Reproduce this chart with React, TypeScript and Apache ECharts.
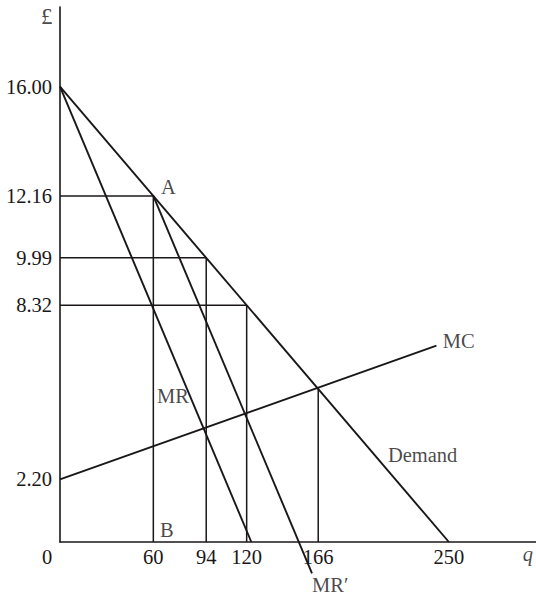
import React, { useEffect, useRef } from "react";
import * as echarts from "echarts";

const priceTicks = [2.2, 8.32, 9.99, 12.16, 16];
const quantityTicks = [0, 60, 94, 120, 166, 250];

const demand = [[0, 16], [250, 0]];
const mr = [[0, 16], [123, 0]];
const mrPrime = [[60, 12.16], [162, -1.1]];
const mc = [[0, 2.2], [242, 6.9]];

const verticalGuides = [
  [[60, 0], [60, 12.16]],
  [[94, 0], [94, 9.99]],
  [[120, 0], [120, 8.32]],
  [[166, 0], [166, 5.38]],
];
const horizontalGuides = [
  [[0, 12.16], [60, 12.16]],
  [[0, 9.99], [94, 9.99]],
  [[0, 8.32], [120, 8.32]],
];

const annotations = [
  { text: "A", q: 64.9, p: 12.47, italic: false, size: 20.5 },
  { text: "B", q: 64.3, p: 0.42, italic: false, size: 20.5 },
  { text: "MR", q: 62.3, p: 5.13, italic: false, size: 20.5 },
  { text: "MR\u2032", q: 162, p: -1.51, italic: false, size: 20.5 },
  { text: "MC", q: 246, p: 7.06, italic: false, size: 20.5 },
  { text: "Demand", q: 210.8, p: 3.06, italic: false, size: 20.5 },
  { text: "\u00a3", q: -12.2, p: 18.45, italic: false, size: 23 },
  { text: "q", q: 297.5, p: -0.42, italic: true, size: 20.5 },
];

const INK = "#1a1718";
const FONT = "'Liberation Serif', 'Times New Roman', serif";
const FS = 20.5;

export default function App() {
  const ref = useRef<HTMLDivElement>(null);
  useEffect(() => {
    if (!ref.current) return;
    const chart = echarts.init(ref.current, null, { renderer: "svg" });
    const curve = (name: string, data: number[][], w = 1.9) => ({
      name,
      type: "line",
      data,
      symbol: "none",
      clip: false,
      lineStyle: { color: INK, width: w },
      silent: true,
    });
    const series: any[] = [
      curve("Demand", demand),
      curve("MR", mr),
      curve("MR'", mrPrime),
      curve("MC", mc),
      ...verticalGuides.map((d, i) => curve("v" + i, d, 1.5)),
      ...horizontalGuides.map((d, i) => curve("h" + i, d, 1.5)),
      {
        type: "scatter",
        symbolSize: 0,
        clip: false,
        silent: true,
        data: annotations.map((a) => ({
          value: [a.q, a.p],
          label: {
            show: true,
            formatter: a.text,
            position: [0, 0],
            align: "left",
            verticalAlign: "middle",
            fontStyle: a.italic ? "italic" : "normal",
            fontFamily: FONT,
            fontSize: a.size,
            color: INK,
          },
        })),
      },
    ];
    chart.setOption({
      animation: false,
      backgroundColor: "#ffffff",
      grid: { left: 60, right: 0, top: 7, bottom: 53 },
      xAxis: {
        type: "value",
        min: 0,
        max: 306,
        axisLine: { show: true, lineStyle: { color: INK, width: 1.6 } },
        axisTick: { show: false },
        splitLine: { show: false },
        axisLabel: {
          customValues: quantityTicks,
          margin: 4,
          fontFamily: FONT,
          fontSize: FS,
          color: INK,
          formatter: (v: number) => (v === 0 ? "{z|0}" : String(v)),
          rich: {
            z: { fontFamily: FONT, fontSize: FS, color: INK, padding: [0, 26, 0, 0] },
          },
        },
      },
      yAxis: {
        type: "value",
        min: 0,
        max: 18.8,
        axisLine: { show: true, lineStyle: { color: INK, width: 1.6 } },
        axisTick: { show: false },
        splitLine: { show: false },
        axisLabel: {
          customValues: priceTicks,
          margin: 8,
          fontFamily: FONT,
          fontSize: FS,
          color: INK,
          formatter: (v: number) => v.toFixed(2),
        },
      },
      series,
    });
    return () => chart.dispose();
  }, []);
  return (
    <div
      ref={ref}
      style={{ position: "fixed", left: 0, top: 0, width: 536, height: 595, background: "#fff" }}
    />
  );
}
